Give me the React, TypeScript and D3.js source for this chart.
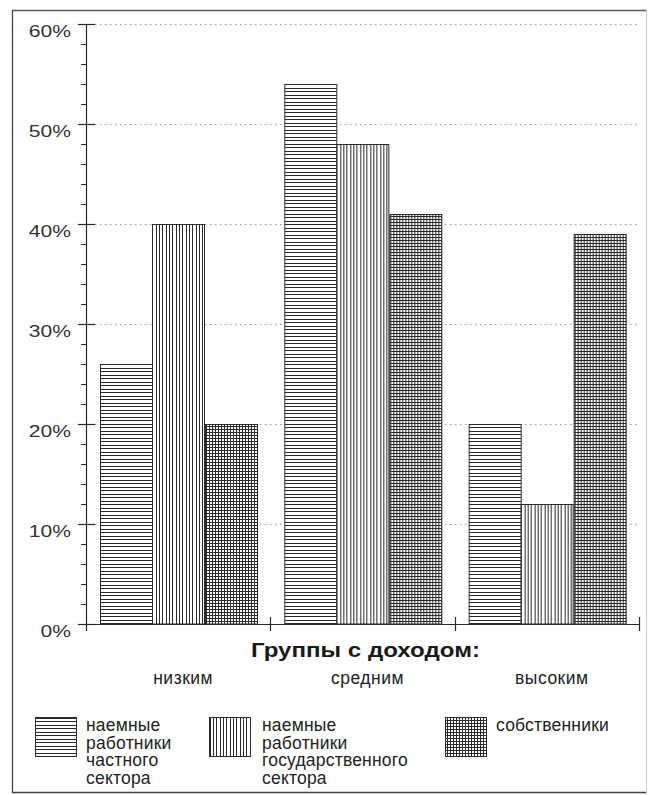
import React from 'react';
import * as d3 from 'd3';

const categories = ['низким', 'средним', 'высоким'];
const seriesKeys = ['private', 'public', 'owners'];
const privateEmployees = [26, 54, 20];
const publicEmployees = [40, 48, 12];
const owners = [20, 41, 39];
const yTickValues = [0, 10, 20, 30, 40, 50, 60];
const yTickLabels = ['0%', '10%', '20%', '30%', '40%', '50%', '60%'];
const axisTitle = 'Группы с доходом:';
const legendLabels = [
  ['наемные', 'работники', 'частного', 'сектора'],
  ['наемные', 'работники', 'государственного', 'сектора'],
  ['собственники'],
];

const W = 650;
const H = 795;
const FONT = '"Liberation Sans", Arial, Helvetica, sans-serif';
const INK = '#2a2a2a';

export default function App() {
  const y = d3.scaleLinear().domain([0, 60]).range([624, 24]);
  const x0 = d3.scaleBand<string>().domain(categories).range([86, 639]);
  const x1 = d3
    .scaleBand<string>()
    .domain(seriesKeys)
    .range([14, x0.bandwidth() - 13]);
  const seriesValues = [privateEmployees, publicEmployees, owners];
  const patternIds = ['pat-h', 'pat-v', 'pat-grid'];
  const minorTicks = d3.range(0, 61, 2).filter((v) => v % 10 !== 0);
  const groupEdges = [...categories.map((c) => x0(c) as number), 639];

  const legendX = [35, 209, 445];
  const legendTextX = [86, 262, 496];

  return (
    <svg
      width={W}
      height={H}
      viewBox={`0 0 ${W} ${H}`}
      style={{ position: 'absolute', left: 0, top: 0, background: '#fff' }}
    >
      <defs>
        <pattern id="pat-h" patternUnits="userSpaceOnUse" width={8} height={7}>
          <rect width={8} height={7} fill="#fff" />
          <line x1={0} x2={8} y1={0.5} y2={0.5} stroke={INK} strokeWidth={1} />
          <line x1={0} x2={8} y1={4.5} y2={4.5} stroke={INK} strokeWidth={1} />
        </pattern>
        <pattern id="pat-v" patternUnits="userSpaceOnUse" width={10} height={8}>
          <rect width={10} height={8} fill="#fff" />
          <line x1={0.5} x2={0.5} y1={0} y2={8} stroke={INK} strokeWidth={1} />
          <line x1={3.5} x2={3.5} y1={0} y2={8} stroke={INK} strokeWidth={1} />
          <line x1={6.5} x2={6.5} y1={0} y2={8} stroke={INK} strokeWidth={1} />
        </pattern>
        <pattern id="pat-grid" patternUnits="userSpaceOnUse" width={3} height={3}>
          <rect width={3} height={3} fill="#fff" />
          <line x1={0} x2={3} y1={0.5} y2={0.5} stroke={INK} strokeWidth={1} />
          <line x1={0.5} x2={0.5} y1={0} y2={3} stroke={INK} strokeWidth={1} />
        </pattern>
      </defs>

      {/* frame */}
      <rect x={0} y={0} width={W} height={H} fill="#fff" />
      <line x1={12.5} x2={12.5} y1={10} y2={793} stroke="#444" strokeWidth={1.3} />
      <line x1={12} x2={647} y1={10.5} y2={10.5} stroke="#555" strokeWidth={1.3} />
      <line x1={12} x2={647} y1={792.5} y2={792.5} stroke="#444" strokeWidth={1.5} />
      <line x1={646.5} x2={646.5} y1={10} y2={793} stroke="#ccc" strokeWidth={1} />

      {/* gridlines */}
      {yTickValues
        .filter((v) => v > 0)
        .map((v) => (
          <line
            key={`g${v}`}
            x1={90}
            x2={639}
            y1={Math.round(y(v)) + 0.5}
            y2={Math.round(y(v)) + 0.5}
            stroke="#999"
            strokeWidth={1}
            strokeDasharray="1.5 3.5"
          />
        ))}

      {/* bars */}
      {categories.map((c, ci) => (
        <g key={c} transform={`translate(${x0(c)},0)`}>
          {seriesKeys.map((k, si) => {
            const v = seriesValues[si][ci];
            const bx = Math.round(x1(k) as number) + 0.5;
            const bw = Math.round(x1.bandwidth());
            const by = Math.round(y(v)) + 0.5;
            return (
              <rect
                key={k}
                x={bx}
                y={by}
                width={bw}
                height={y(0) - by}
                fill={`url(#${patternIds[si]})`}
                stroke={INK}
                strokeWidth={1}
              />
            );
          })}
        </g>
      ))}

      {/* y axis */}
      <line x1={86.5} x2={86.5} y1={24} y2={631} stroke={INK} strokeWidth={1.2} />
      {minorTicks.map((v) => (
        <line
          key={`m${v}`}
          x1={81}
          x2={87}
          y1={Math.round(y(v)) + 0.5}
          y2={Math.round(y(v)) + 0.5}
          stroke={INK}
          strokeWidth={1}
        />
      ))}
      {yTickValues.map((v, i) => (
        <g key={`t${v}`}>
          <line
            x1={78}
            x2={95}
            y1={Math.round(y(v)) + 0.5}
            y2={Math.round(y(v)) + 0.5}
            stroke={INK}
            strokeWidth={1.2}
          />
          <text
            transform={`translate(71,${y(v) + 12.5}) scale(1.28,1)`}
            textAnchor="end"
            fontFamily={FONT}
            fontSize={16.5}
            fill="#333"
          >
            {yTickLabels[i]}
          </text>
        </g>
      ))}

      {/* x axis */}
      <line x1={86} x2={639} y1={624.5} y2={624.5} stroke={INK} strokeWidth={1.2} />
      {groupEdges.slice(1).map((gx, i) => (
        <line
          key={`xe${i}`}
          x1={Math.round(gx) + 0.5}
          x2={Math.round(gx) + 0.5}
          y1={617}
          y2={631}
          stroke={INK}
          strokeWidth={1.2}
        />
      ))}

      {/* axis title */}
      <text
        x={251}
        y={657}
        fontFamily={FONT}
        fontWeight="bold"
        fontSize={19.5}
        fill="#1a1a1a"
        textLength={229}
        lengthAdjust="spacingAndGlyphs"
      >
        {axisTitle}
      </text>

      {/* category labels */}
      {categories.map((c) => (
        <text
          key={`cl${c}`}
          x={(x0(c) as number) + x0.bandwidth() / 2 + 5}
          y={684}
          textAnchor="middle"
          fontFamily={FONT}
          fontSize={17.5}
          letterSpacing={0.5}
          fill="#222"
        >
          {c}
        </text>
      ))}

      {/* legend */}
      {legendLabels.map((lines, i) => (
        <g key={`lg${i}`}>
          <rect
            x={legendX[i] + 0.5}
            y={717.5}
            width={41}
            height={39}
            fill={`url(#${patternIds[i]})`}
            stroke={INK}
            strokeWidth={1}
          />
          <text
            x={legendTextX[i]}
            y={731}
            fontFamily={FONT}
            fontSize={17.5}
            letterSpacing={0.2}
            fill="#222"
          >
            {lines.map((ln, li) => (
              <tspan key={li} x={legendTextX[i]} dy={li === 0 ? 0 : 17.5}>
                {ln}
              </tspan>
            ))}
          </text>
        </g>
      ))}
    </svg>
  );
}
